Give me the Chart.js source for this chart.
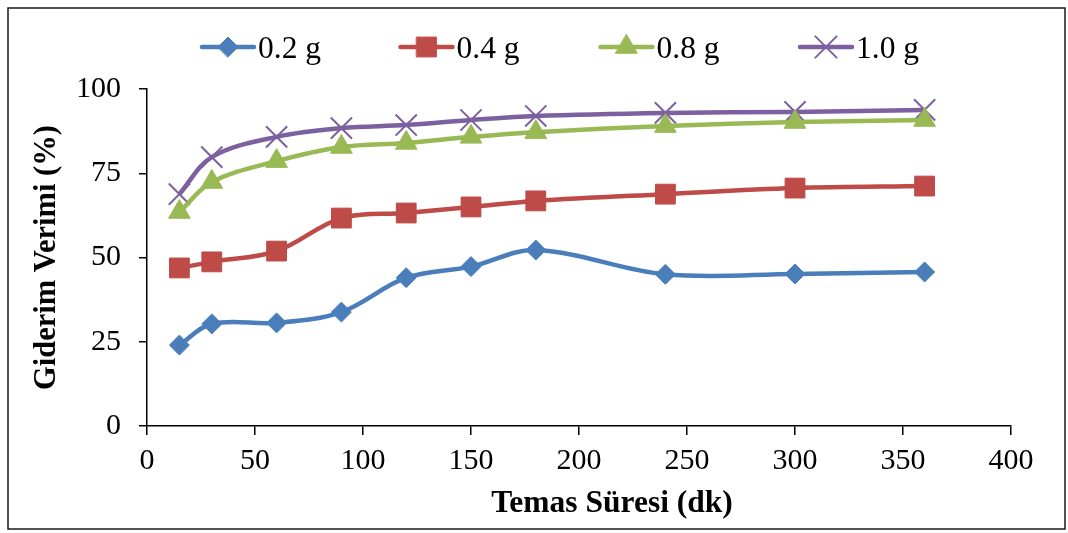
<!DOCTYPE html>
<html>
<head>
<meta charset="utf-8">
<script src="https://cdn.jsdelivr.net/npm/chart.js@4.4.0/dist/chart.umd.min.js"></script>
<style>
  html, body { margin: 0; padding: 0; background: #ffffff; }
  #wrap { width: 1068px; height: 533px; position: relative; }
</style>
</head>
<body>
<div id="wrap"><canvas id="c" width="1068" height="533"></canvas></div>
<script>
// ---- Data ----
const contactTimes = [15, 30, 60, 90, 120, 150, 180, 240, 300, 360];
const dose02 = [24.0, 30.3, 30.6, 33.8, 44.0, 47.3, 52.2, 45.0, 45.1, 45.7];
const dose04 = [46.9, 48.7, 51.9, 61.7, 63.2, 65.0, 66.8, 68.8, 70.6, 71.2];
const dose08 = [63.5, 72.4, 78.6, 82.8, 84.0, 85.8, 87.2, 89.0, 90.2, 90.8];
const dose10 = [68.8, 79.8, 85.8, 88.4, 89.3, 90.8, 92.0, 92.9, 93.2, 93.8];
const seriesLabels = ['0.2 g', '0.4 g', '0.8 g', '1.0 g'];
const xTickValues = [0, 50, 100, 150, 200, 250, 300, 350, 400];
const yTickValues = [0, 25, 50, 75, 100];
const xTitle = 'Temas Süresi (dk)';
const yTitle = 'Giderim Verimi (%)';

const SERIF = '"Liberation Serif", "Times New Roman", serif';
const colors = ['#4A7EBB', '#BE4B48', '#98B954', '#7D60A0'];
const styles = [
  { pointStyle: 'rectRot', radius: 10, borderWidth: 1 },
  { pointStyle: 'rect', radius: 14, borderWidth: 1 },
  { pointStyle: 'triangle', radius: 12.5, borderWidth: 1 },
  { pointStyle: 'crossRot', radius: 15, borderWidth: 2 }
];
const seriesValues = [dose02, dose04, dose08, dose10];

const datasets = seriesValues.map((vals, i) => ({
  label: seriesLabels[i],
  data: contactTimes.map((t, k) => ({ x: t, y: vals[k] })),
  borderColor: colors[i],
  backgroundColor: colors[i],
  borderWidth: 4.5,
  tension: 0.35,
  fill: false,
  pointStyle: styles[i].pointStyle,
  pointRadius: styles[i].radius,
  pointHoverRadius: styles[i].radius,
  pointBackgroundColor: colors[i],
  pointBorderColor: colors[i],
  pointBorderWidth: styles[i].borderWidth
}));

const decorPlugin = {
  id: 'decor',
  afterDraw(chart) {
    const ctx = chart.ctx;
    ctx.save();
    // outer frame
    ctx.strokeStyle = '#1a1a1a';
    ctx.lineWidth = 1.5;
    ctx.strokeRect(8, 8, 1057, 521);

    // legend
    const lineY = 47;
    const lineLen = 56;
    const starts = [200, 398.5, 598.5, 798];
    chart.data.datasets.forEach((ds, i) => {
      const x0 = starts[i];
      ctx.strokeStyle = ds.borderColor;
      ctx.lineWidth = 4.5;
      ctx.lineCap = 'round';
      ctx.beginPath();
      ctx.moveTo(x0 + 2, lineY);
      ctx.lineTo(x0 + lineLen - 2, lineY);
      ctx.stroke();
      ctx.fillStyle = ds.pointBackgroundColor;
      ctx.strokeStyle = ds.pointBorderColor;
      ctx.lineWidth = ds.pointBorderWidth;
      Chart.helpers.drawPoint(ctx, {
        pointStyle: ds.pointStyle,
        radius: ds.pointRadius,
        rotation: 0,
        borderWidth: ds.pointBorderWidth
      }, x0 + lineLen / 2, lineY);
      ctx.fillStyle = '#000';
      ctx.font = '31.5px ' + SERIF;
      ctx.textAlign = 'left';
      ctx.textBaseline = 'alphabetic';
      ctx.fillText(ds.label, x0 + lineLen + 2, 58);
    });

    // x axis title
    ctx.fillStyle = '#000';
    ctx.font = 'bold 31.5px ' + SERIF;
    ctx.textAlign = 'center';
    ctx.textBaseline = 'alphabetic';
    ctx.fillText(xTitle, 612, 512);
    ctx.restore();
  }
};

new Chart(document.getElementById('c'), {
  type: 'line',
  data: { datasets },
  options: {
    responsive: false,
    animation: false,
    devicePixelRatio: 1,
    layout: { autoPadding: false, padding: { top: 89, right: 57, left: 0, bottom: 0 } },
    plugins: { legend: { display: false }, tooltip: { enabled: false }, title: { display: false } },
    scales: {
      x: {
        type: 'linear',
        min: 0, max: 400,
        afterBuildTicks: (s) => { s.ticks = xTickValues.map(v => ({ value: v })); },
        afterFit: (s) => { s.height = 107; },
        grid: { display: true, drawOnChartArea: false, drawTicks: true, tickLength: 9, color: '#000', lineWidth: 1.5 },
        border: { display: true, color: '#000', width: 1.5 },
        ticks: { color: '#000', font: { family: SERIF, size: 30 }, padding: 8, maxRotation: 0, autoSkip: false },
        title: { display: false }
      },
      y: {
        min: 0, max: 100,
        afterBuildTicks: (s) => { s.ticks = yTickValues.map(v => ({ value: v })); },
        afterFit: (s) => { s.width = 147; },
        grid: { display: true, drawOnChartArea: false, drawTicks: true, tickLength: 8, color: '#000', lineWidth: 1.5 },
        border: { display: true, color: '#000', width: 1.5 },
        ticks: { color: '#000', font: { family: SERIF, size: 30 }, padding: 18, autoSkip: false },
        title: { display: true, text: yTitle, color: '#000', font: { family: SERIF, size: 30.5, weight: 'bold' }, padding: { top: 29, bottom: 0 } }
      }
    }
  },
  plugins: [decorPlugin]
});
</script>
</body>
</html>
